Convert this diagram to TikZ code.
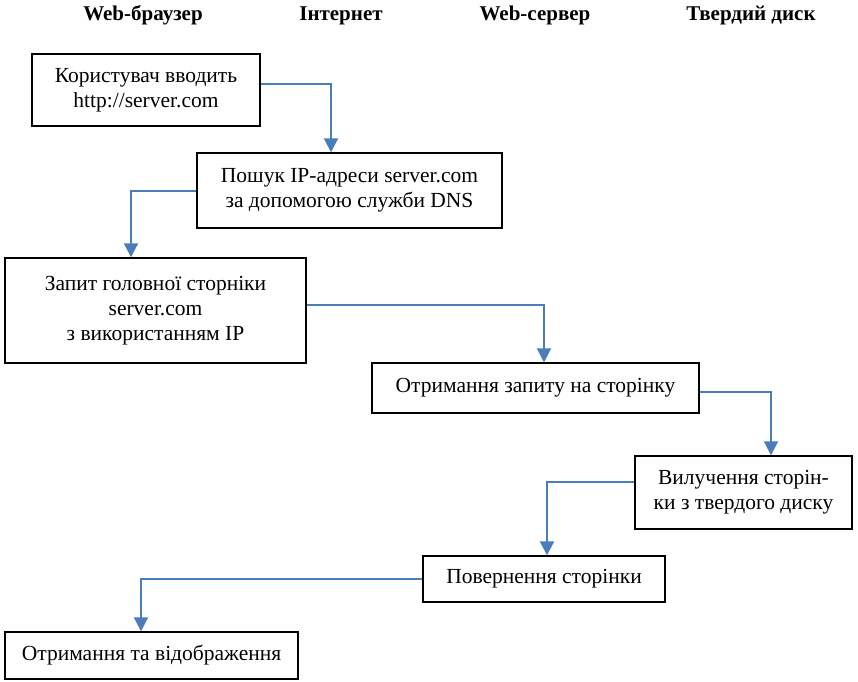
\documentclass[tikz,border=0pt]{standalone}
\usepackage{fontspec}
\setmainfont{Liberation Serif}
\usetikzlibrary{arrows.meta,positioning,calc}
\definecolor{flowblue}{RGB}{74,126,187}

\begin{document}
\begin{tikzpicture}[x=1pt, y=-1pt,
      stage/.style={rectangle,draw=black,line width=1.4pt,align=center,inner sep=0pt,
        font=\fontsize{21.5}{25}\selectfont},
      lane/.style={anchor=base,font=\fontsize{21}{24}\selectfont\bfseries},
      flow/.style={draw=flowblue,line width=2pt,-{Triangle[width=14pt,length=14pt]}}]
      \useasboundingbox (0,0) rectangle (858,681);
      \node[lane] at (143,20) (browser) {Web-браузер};
      \node[lane] at (341,20) (net) {Інтернет};
      \node[lane] at (535,20) (server) {Web-сервер};
      \node[lane] at (751,20) (disk) {Твердий диск};
      \node[stage,minimum width=228,minimum height=72] at (146,90) (enter) {Користувач вводить\\http://server.com};
      \node[stage,minimum width=305,minimum height=75] at (349.5,190.5) (dns) {Пошук IP-адреси server.com\\за допомогою служби DNS};
      \node[stage,minimum width=301,minimum height=105] at (155.5,310.5) (request) {Запит головної сторніки\\server.com\\з використанням IP};
      \node[stage,minimum width=327,minimum height=50] at (535.5,388) (receive) {Отримання запиту на сторінку};
      \node[stage,minimum width=217,minimum height=73] at (743.5,492.5) (fetch) {Вилучення сторін-\\ки з твердого диску};
      \node[stage,minimum width=242,minimum height=46] at (544,579) (reply) {Повернення сторінки};
      \node[stage,minimum width=293,minimum height=47] at (151.5,655.5) (show) {Отримання та відображення};
      \draw[flow] ([yshift=6pt]enter.east) -| ([xshift=-18.5pt]dns.north);
      \draw[flow] (dns.west) -| ([xshift=-24.5pt]request.north);
      \draw[flow] ([yshift=5.5pt]request.east) -| ([xshift=8.5pt]receive.north);
      \draw[flow] ([yshift=-4pt]receive.east) -| ([xshift=27.5pt]fetch.north);
      \draw[flow] ([yshift=10.5pt]fetch.west) -| ([xshift=3pt]reply.north);
      \draw[flow] (reply.west) -| ([xshift=-10.5pt]show.north);
    \end{tikzpicture}
\end{document}
